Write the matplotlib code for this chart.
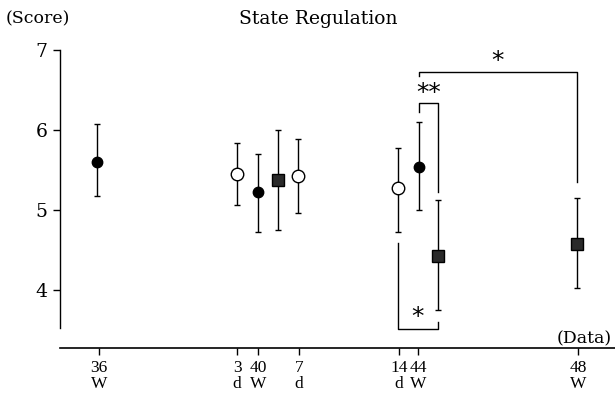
import numpy as np
import matplotlib
matplotlib.use("Agg")
import matplotlib.pyplot as plt

plt.rcParams['font.family'] = ['DejaVu Serif']

# time points (x position along the axis), means and error bar ends
pos = [97, 237, 258, 278, 298, 398, 419, 438, 577]
means = [5.60, 5.45, 5.22, 5.38, 5.43, 5.28, 5.54, 4.43, 4.58]
upper = [6.07, 5.84, 5.70, 6.00, 5.89, 5.77, 6.10, 5.12, 5.15]
lower = [5.17, 5.06, 4.72, 4.75, 4.96, 4.73, 5.00, 3.75, 4.03]
kind = ['filled', 'open', 'filled', 'square', 'open', 'open', 'filled', 'square', 'square']

tick_pos = [99, 237, 258, 299, 399, 418, 578]
tick_lab = ['36\nW', '3\nd', '40\nW', '7\nd', '14\nd', '44\nW', '48\nW']

fig = plt.figure(figsize=(6.15, 4.03), dpi=100)
ax = fig.add_axes([60/615, 1-348/403, 555/615, 328/403])
ax.set_xlim(60, 615)
ax.set_ylim(3.275, 7.375)

for x, m, u, l, k in zip(pos, means, upper, lower, kind):
    ax.errorbar(x, m, yerr=[[m-l], [u-m]], fmt='none', ecolor='black',
                elinewidth=1.0, capsize=2.2, capthick=1.0, zorder=2)
    if k == 'filled':
        ax.plot(x, m, 'o', ms=7.5, mfc='black', mec='black', zorder=3)
    elif k == 'open':
        ax.plot(x, m, 'o', ms=9, mfc='white', mec='black', mew=1.0, zorder=3)
    else:
        ax.plot(x, m, 's', ms=8, mfc='#2a2a2a', mec='black', zorder=3)

# significance brackets
lw = 1.0
ax.plot([pos[6], pos[6], pos[8], pos[8]], [6.67, 6.73, 6.73, 5.35], 'k-', lw=lw)
ax.text((pos[6]+pos[8])/2, 6.86, '*', ha='center', va='center', fontsize=18,
        family='DejaVu Sans')
ax.plot([pos[6], pos[6], pos[7], pos[7]], [6.23, 6.34, 6.34, 5.23], 'k-', lw=lw)
ax.text((pos[6]+pos[7])/2, 6.46, '**', ha='center', va='center', fontsize=18,
        family='DejaVu Sans')
ax.plot([pos[5], pos[5], pos[7], pos[7]], [4.59, 3.51, 3.51, 3.60], 'k-', lw=lw)
ax.text((pos[5]+pos[7])/2, 3.66, '*', ha='center', va='center', fontsize=18,
        family='DejaVu Sans')

ax.spines['top'].set_visible(False)
ax.spines['right'].set_visible(False)
ax.spines['left'].set_bounds(3.52, 7)
ax.spines['left'].set_linewidth(1.0)
ax.spines['bottom'].set_linewidth(1.2)

ax.set_yticks([4, 5, 6, 7])
ax.set_yticklabels(['4', '5', '6', '7'], fontsize=13.5)
ax.set_xticks(tick_pos)
ax.set_xticklabels(tick_lab, fontsize=12.5, linespacing=1.0,
                   family='Liberation Serif')
ax.tick_params(axis='both', direction='out', length=5, width=1.0, pad=4)

fig.text(318/615, 1-19/403, 'State Regulation', ha='center', va='center', fontsize=13.5)
fig.text(38/615, 1-19/403, '(Score)', ha='center', va='center', fontsize=12.5)
ax.text(612, 3.39, '(Data)', ha='right', va='center', fontsize=12.5)

fig.savefig('out.png', dpi=100)
